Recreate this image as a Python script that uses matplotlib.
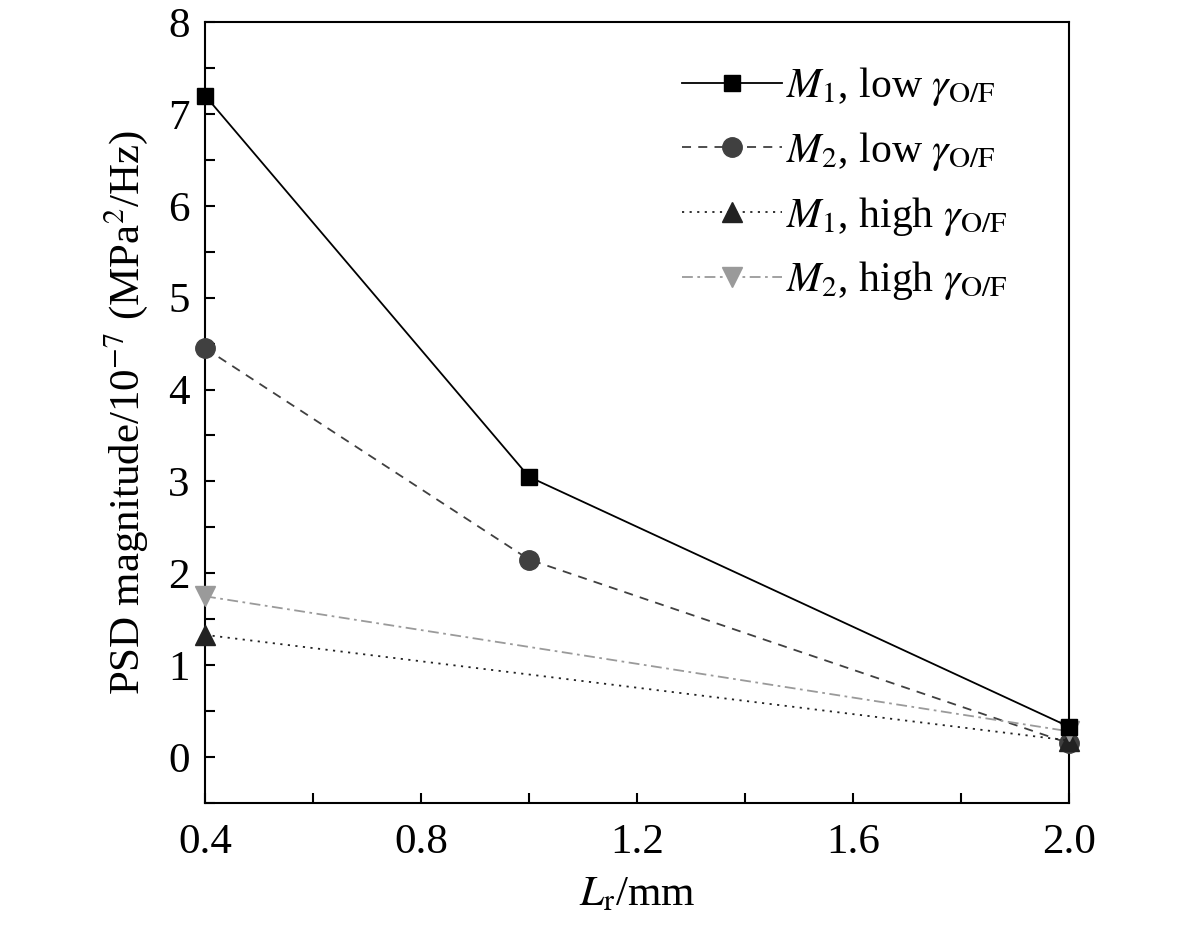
import matplotlib
matplotlib.use("Agg")
import matplotlib.pyplot as plt
from matplotlib.ticker import MultipleLocator

plt.rcParams['font.family'] = ['Liberation Serif', 'DejaVu Serif']
plt.rcParams['mathtext.fontset'] = 'stix'

x_low = [0.4, 1.0, 2.0]
m1_low = [7.2, 3.05, 0.33]
m2_low = [4.45, 2.15, 0.15]
x_high = [0.4, 2.0]
m1_high = [1.33, 0.18]
m2_high = [1.75, 0.28]

labels = [r"$M_1$, low $\gamma_{\mathrm{O/F}}$",
          r"$M_2$, low $\gamma_{\mathrm{O/F}}$",
          r"$M_1$, high $\gamma_{\mathrm{O/F}}$",
          r"$M_2$, high $\gamma_{\mathrm{O/F}}$"]

fig = plt.figure(figsize=(11.81, 9.32), dpi=100)
ax = fig.add_axes([0.1736, 0.1384, 0.9052 - 0.1736, 0.9764 - 0.1384])

ax.plot(x_low, m1_low, color='black', ls='-', lw=1.3, marker='s', ms=12, label=labels[0], clip_on=False, zorder=4)
ax.plot(x_low, m2_low, color='#404040', ls=(0, (5, 4)), lw=1.3, marker='o', ms=14, label=labels[1], clip_on=False, zorder=3)
ax.plot(x_high, m1_high, color='#222222', ls=(0, (1.2, 3)), lw=1.3, marker='^', ms=14, label=labels[2], clip_on=False, zorder=3)
ax.plot(x_high, m2_high, color='#9a9a9a', ls=(0, (6, 2.5, 1.5, 2.5)), lw=1.3, marker='v', ms=14, label=labels[3], clip_on=False, zorder=3)

ax.set_xlim(0.4, 2.0)
ax.set_ylim(-0.5, 8)
ax.xaxis.set_major_locator(MultipleLocator(0.4))
ax.xaxis.set_minor_locator(MultipleLocator(0.2))
ax.yaxis.set_major_locator(MultipleLocator(1))
ax.yaxis.set_minor_locator(MultipleLocator(0.5))
ax.xaxis.set_major_formatter(plt.FuncFormatter(lambda v, p: f"{v:.1f}"))
ax.yaxis.set_major_formatter(plt.FuncFormatter(lambda v, p: f"{v:.0f}"))

ax.tick_params(which='both', direction='in', length=7, width=1.5, labelsize=31,
               top=False, right=False)
ax.tick_params(axis='x', which='both', pad=15)
ax.tick_params(axis='y', which='both', pad=11)
for s in ax.spines.values():
    s.set_linewidth(1.5)

ax.set_xlabel(r"$L_\mathrm{r}$/mm", fontsize=31, labelpad=10)
ax.set_ylabel(r"PSD magnitude/10$^{-7}$ (MPa$^2$/Hz)", fontsize=31, labelpad=13)

leg = ax.legend(loc='upper right', fontsize=30, frameon=False, handlelength=2.4,
                handletextpad=0.1, labelspacing=0.52, borderaxespad=0.0,
                bbox_to_anchor=(0.948, 0.966))

fig.savefig("out.png", dpi=100)
